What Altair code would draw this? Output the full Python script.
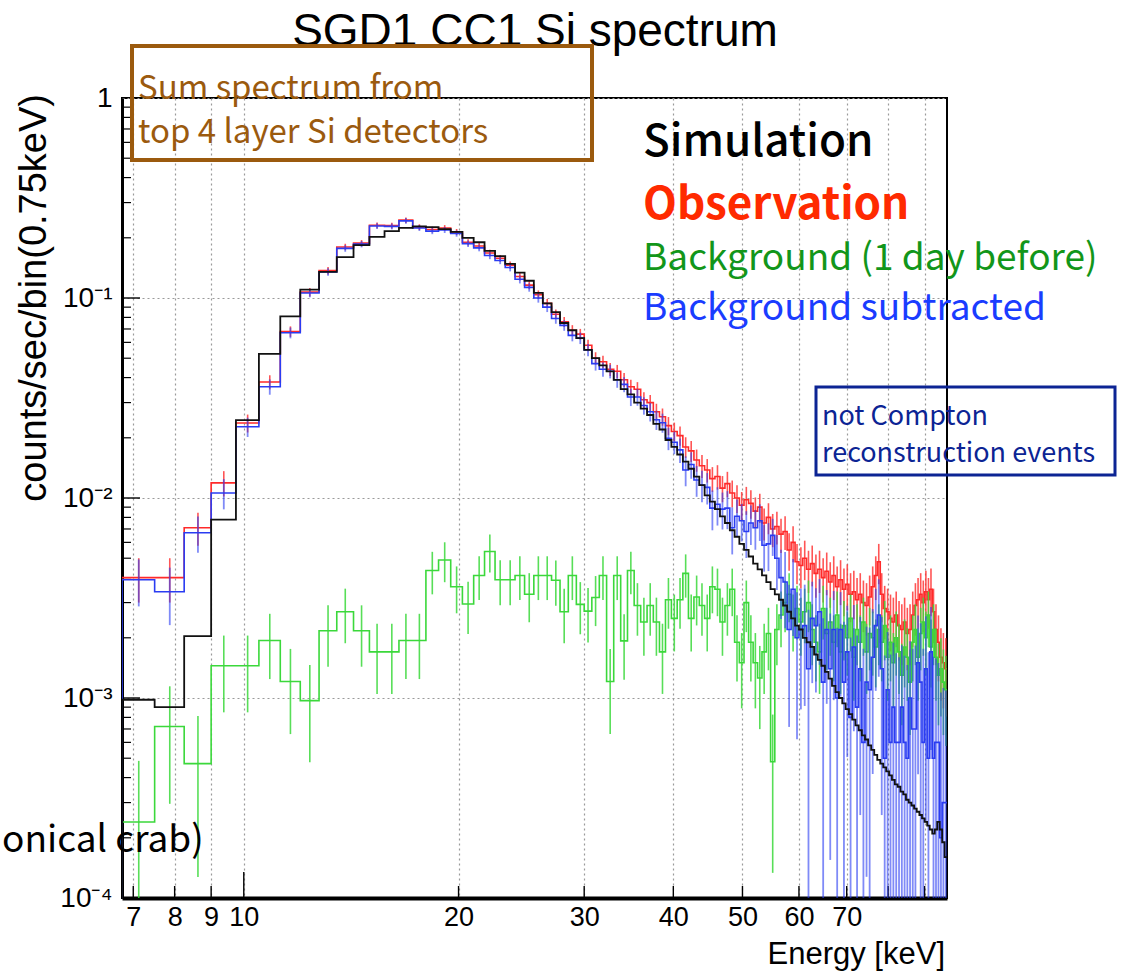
import altair as alt
import pandas as pd

# ---------------- data ----------------
BIN_LO = 6.75      # keV, lower edge of first bin
BIN_W = 0.75       # keV, bin width
EXPOSURE_S = 4000.0  # effective exposure used for Poisson error bars

simulation = [
    0.00098, 0.00090, 0.00204, 0.0078, 0.0245, 0.0525, 0.081, 0.110, 0.135, 0.160,
    0.184, 0.202, 0.216, 0.224, 0.228, 0.226, 0.221, 0.214, 0.200, 0.190,
    0.172, 0.162, 0.148, 0.134, 0.122, 0.106, 0.094, 0.085, 0.075, 0.069,
    0.063, 0.055, 0.050, 0.046, 0.043, 0.039, 0.035, 0.033, 0.030, 0.028,
    0.026, 0.0235, 0.022, 0.0195, 0.018, 0.0165, 0.0152, 0.014, 0.0128, 0.0116,
    0.0103, 0.0096, 0.0088, 0.0081, 0.0075, 0.0069, 0.0064, 0.0059, 0.0055, 0.0051,
    0.0047, 0.0044, 0.0041, 0.0038, 0.0035, 0.0033, 0.0031, 0.0029, 0.0027, 0.0025,
    0.0023, 0.0022, 0.0020, 0.0019, 0.0018, 0.00165, 0.00155, 0.00145, 0.00135, 0.00125,
    0.00115, 0.00107, 0.00100, 0.00094, 0.00088, 0.00083, 0.00078, 0.00073, 0.00069, 0.00065,
    0.00062, 0.00058, 0.00055, 0.00052, 0.00049, 0.00047, 0.00045, 0.00043, 0.00041, 0.00039,
    0.00037, 0.00036, 0.00034, 0.00033, 0.00031, 0.00030, 0.00029, 0.00028, 0.00027, 0.00026,
    0.00025, 0.00024, 0.00023, 0.00022, 0.00021, 0.00022, 0.00024, 0.00022, 0.00019, 0.00016,
]

observation = [
    0.0040, 0.0040, 0.0071, 0.0119, 0.0237, 0.038, 0.068, 0.107, 0.137, 0.180,
    0.188, 0.231, 0.230, 0.245, 0.226, 0.220, 0.224, 0.214, 0.190, 0.182,
    0.168, 0.158, 0.146, 0.128, 0.116, 0.104, 0.094, 0.083, 0.076, 0.069,
    0.066, 0.058, 0.050, 0.048, 0.044, 0.043, 0.039, 0.036, 0.035, 0.031,
    0.030, 0.027, 0.0255, 0.023, 0.0215, 0.0205, 0.018, 0.0172, 0.0155, 0.0145,
    0.0138, 0.0125, 0.0128, 0.0112, 0.0118, 0.0106, 0.0100, 0.0092, 0.0098, 0.0094,
    0.0086, 0.0090, 0.0075, 0.0080, 0.0070, 0.0072, 0.0066, 0.0068, 0.0055, 0.0060,
    0.0048, 0.0046, 0.0050, 0.0044, 0.0047, 0.0042, 0.0044, 0.0040, 0.0043, 0.0038,
    0.0041, 0.0036, 0.0039, 0.0035, 0.0037, 0.0033, 0.0034, 0.0031, 0.0033, 0.0030,
    0.0029, 0.0032, 0.0036, 0.0041, 0.0048, 0.0033, 0.0028, 0.0027, 0.0025, 0.0024,
    0.0026, 0.0023, 0.0022, 0.0024, 0.0021, 0.0022, 0.0026, 0.0029, 0.0031, 0.0033,
    0.0030, 0.0034, 0.0031, 0.0035, 0.0027, 0.0022, 0.0019, 0.0016, 0.0015, 0.0014,
]

background = [
    0.00024, 0.00072, 0.00047, 0.00145, 0.00145, 0.00194, 0.00121, 0.00097, 0.00217, 0.0027,
    0.00217, 0.0017, 0.0017, 0.00194, 0.00194, 0.00434, 0.0049, 0.0036, 0.00295, 0.0041,
    0.0054, 0.0039, 0.0039, 0.0041, 0.0033, 0.0041, 0.0041, 0.00388, 0.0027, 0.0041,
    0.00294, 0.00272, 0.00318, 0.0041, 0.00121, 0.0041, 0.00193, 0.00434, 0.0029, 0.0024,
    0.0029, 0.0024, 0.0017, 0.0031, 0.0025, 0.0031, 0.0042, 0.0025, 0.0032, 0.0029,
    0.0025, 0.0036, 0.0035, 0.0024, 0.0029, 0.0035, 0.0019, 0.0015, 0.0030, 0.0019,
    0.0015, 0.00126, 0.0017, 0.0021, 0.00048, 0.0022, 0.0026, 0.0030, 0.0033, 0.0025,
    0.0028, 0.0024, 0.0027, 0.0030, 0.0022, 0.0019, 0.0017, 0.0028, 0.0021, 0.0024,
    0.0019, 0.0026, 0.0017, 0.0023, 0.0020, 0.0025, 0.0016, 0.0022, 0.0019, 0.0024,
    0.0017, 0.0021, 0.0020, 0.0018, 0.0022, 0.0019, 0.0023, 0.0016, 0.0019, 0.0015,
    0.0020, 0.0017, 0.0013, 0.0018, 0.0016, 0.0012, 0.0019, 0.0022, 0.0016, 0.0021,
    0.0024, 0.0020, 0.0026, 0.0018, 0.0022, 0.0016, 0.0013, 0.0014, 0.0012, 0.0011,
]

subtracted = [
    0.0039, 0.0034, 0.0067, 0.0106, 0.0227, 0.036, 0.067, 0.106, 0.135, 0.177,
    0.186, 0.229, 0.228, 0.243, 0.224, 0.216, 0.219, 0.210, 0.187, 0.178,
    0.163, 0.154, 0.142, 0.124, 0.113, 0.100, 0.090, 0.079, 0.073, 0.065,
    0.063, 0.055, 0.047, 0.044, 0.043, 0.039, 0.037, 0.032, 0.032, 0.029,
    0.027, 0.0246, 0.0238, 0.0199, 0.019, 0.0174, 0.0138, 0.0147, 0.0123, 0.0116,
    0.0113, 0.0089, 0.0093, 0.0088, 0.0089, 0.0071, 0.0081, 0.0077, 0.0068, 0.0075,
    0.0071, 0.0077, 0.0058, 0.0059, 0.0065, 0.0050, 0.0040, 0.0038, 0.0022, 0.0035,
    0.0020, 0.0022, 0.0023, 0.0014, 0.0025, 0.0023, 0.0027, 0.0012, 0.0022, 0.0014,
    0.0022, 0.0010, 0.0022, 0.0012, 0.0017, 0.0008, 0.0018, 0.0009, 0.0014, 0.0006,
    0.0012, 0.0011, 0.0016, 0.0023, 0.0026, 0.0014, 0.0005, 0.0011, 0.0006, 0.0009,
    0.0006, 0.0006, 0.0009, 0.0006, 0.0005, 0.0010, 0.0007, 0.0007, 0.0015, 0.0012,
    0.0006, 0.0014, 0.0005, 0.0017, 0.0005, 0.0006, 0.0006, 0.0002, 0.0003, 0.0003,
]

x_tick_values = [7, 8, 9, 10, 20, 30, 40, 50, 60, 70, 80, 90]
y_tick_values = [1e-4, 1e-3, 1e-2, 1e-1, 1.0]

# ---------------- derived tables ----------------
n = len(simulation)
edges = [BIN_LO + BIN_W * i for i in range(n + 1)]
centers = [BIN_LO + BIN_W * (i + 0.5) for i in range(n)]
YMIN, YMAX = 1e-4, 1.0


def step_df(vals, from_floor=False):
    xs = list(edges)
    ys = list(vals) + [vals[-1]]
    if from_floor:
        xs = [edges[0]] + xs
        ys = [1e-6] + ys
    return pd.DataFrame({"E": xs, "v": ys})


def err_df(vals, errs):
    lo = [max(v - e, 5e-5) for v, e in zip(vals, errs)]
    hi = [v + e for v, e in zip(vals, errs)]
    return pd.DataFrame({"E": centers, "lo": lo, "hi": hi})


obs_err = [(v / EXPOSURE_S) ** 0.5 for v in observation]
bkg_err = [(v / EXPOSURE_S) ** 0.5 for v in background]
sub_err = [((o + b) / EXPOSURE_S) ** 0.5 for o, b in zip(observation, background)]

xscale = alt.Scale(type="log", domain=[BIN_LO, edges[-1]], nice=False)
yscale = alt.Scale(type="log", domain=[YMIN, YMAX], nice=False)

FONT = "Liberation Sans"
JFONT = "Noto Sans CJK JP"

C_BLACK = "#111111"
C_RED = "#ff2a2a"
C_GREEN = "#3bd83b"
C_BLUE = "#2a3cf2"

y_label_expr = (
    "datum.value >= 0.5 ? '1' : datum.value >= 0.05 ? '10\u207b\u00b9' : "
    "datum.value >= 0.005 ? '10\u207b\u00b2' : datum.value >= 0.0005 ? '10\u207b\u00b3' : '10\u207b\u2074'"
)

XAXIS = alt.Axis(
    values=x_tick_values, format="d",
    labelExpr="datum.value >= 75 ? '' : datum.label",
    title=None, ticks=False, labelFont=FONT, labelFontSize=27, labelColor="black",
    labelPadding=6, labelOverlap=False, labelFlush=False,
    domainColor="black", domainWidth=4,
    grid=True, gridColor="#9a9a9a", gridDash=[2, 3], gridWidth=1.2)
YAXIS = alt.Axis(
    values=y_tick_values, labelExpr=y_label_expr,
    title=None, ticks=False, labelFont=FONT, labelFontSize=28, labelColor="black",
    labelPadding=10, labelOverlap=False, labelFlush=False,
    domainColor="black", domainWidth=3,
    grid=True, gridColor="#9a9a9a", gridDash=[2, 3], gridWidth=1.2)


def X(field):
    return alt.X(field, scale=xscale, axis=XAXIS)


def Y(field):
    return alt.Y(field, scale=yscale, axis=YAXIS)


def step_layer(vals, color, from_floor=False, width=1.6):
    return alt.Chart(step_df(vals, from_floor)).mark_line(
        interpolate="step-after", color=color, strokeWidth=width, clip=True
    ).encode(x=X("E:Q"), y=Y("v:Q"))


def err_layer(vals, errs, color, width=1.6, opacity=0.85):
    return alt.Chart(err_df(vals, errs)).mark_rule(
        color=color, strokeWidth=width, opacity=opacity, clip=True
    ).encode(x=X("E:Q"), y=Y("lo:Q"), y2="hi:Q")


# inner ticks (ROOT style)
minor_y = [m * 10.0 ** k for k in range(-4, 0) for m in range(2, 10)]
major_y = [1e-3, 1e-2, 1e-1]
xt_short = [7, 8, 9, 20, 30, 40, 50, 60, 70, 80, 90]
xt_long = [10]

ytick_minor = alt.Chart(pd.DataFrame({"t": minor_y})).mark_rule(color="black", strokeWidth=1.2).encode(
    y=Y("t:Q"), x=alt.value(0), x2=alt.value(9))
ytick_major = alt.Chart(pd.DataFrame({"t": major_y})).mark_rule(color="black", strokeWidth=1.4).encode(
    y=Y("t:Q"), x=alt.value(0), x2=alt.value(18))
xtick_short = alt.Chart(pd.DataFrame({"t": xt_short})).mark_rule(color="black", strokeWidth=1.4).encode(
    x=X("t:Q"), y=alt.value(800), y2=alt.value(788))
xtick_long = alt.Chart(pd.DataFrame({"t": xt_long})).mark_rule(color="black", strokeWidth=1.4).encode(
    x=X("t:Q"), y=alt.value(800), y2=alt.value(774))

one = pd.DataFrame({"a": [0]})


def text(s, x, y, size, color="black", font=JFONT, weight="normal", align="left", angle=0):
    kw = dict(text=s, fontSize=size, color=color, font=font, fontWeight=weight,
              align=align, baseline="alphabetic")
    if angle:
        kw["angle"] = angle
    return alt.Chart(one).mark_text(**kw).encode(x=alt.value(x), y=alt.value(y))


def box(x1, x2, y1, y2, color, width):
    return alt.Chart(one).mark_rect(filled=False, stroke=color, strokeWidth=width).encode(
        x=alt.value(x1), x2=alt.value(x2), y=alt.value(y1), y2=alt.value(y2))


BROWN = "#9b5a0e"
NAVY = "#0c2494"

layers = [
    ytick_minor, ytick_major, xtick_short, xtick_long,
    err_layer(observation, obs_err, C_RED, 1.6, 0.8),
    step_layer(observation, C_RED),
    err_layer(background, bkg_err, C_GREEN, 1.6, 0.85),
    step_layer(background, C_GREEN),
    err_layer(subtracted, sub_err, C_BLUE, 1.8, 0.6),
    step_layer(subtracted, C_BLUE, from_floor=True),
    step_layer(simulation, C_BLACK, from_floor=True, width=1.8),
    # title and axis titles
    text("SGD1 CC1 Si spectrum", 413, -52, 46, font=FONT, align="center"),
    text("Energy [keV]", 823, 866, 31, font=FONT, align="right"),
    text("counts/sec/bin(0.75keV)", -76, -4, 38, font=FONT, align="right", angle=270),
    # annotations
    box(10, 470, -52, 62, BROWN, 4),
    text("Sum spectrum from", 16, 1, 33, color=BROWN),
    text("top 4 layer Si detectors", 16, 45, 33, color=BROWN),
    text("Simulation", 521, 58, 44, color="black", weight=500),
    text("Observation", 521, 121, 44, color="#ff2a00", weight="bold"),
    text("Background (1 day before)", 521, 172, 37, color="#12961a"),
    text("Background subtracted", 521, 222, 37, color="#1a3cff"),
    box(694, 993, 289, 377, NAVY, 3),
    text("not Compton", 700, 327, 27, color=NAVY),
    text("reconstruction events", 700, 364, 27, color=NAVY),
    text("onical crab)", -120, 754, 37, color="black"),
]

chart = alt.layer(*layers).properties(
    width=825, height=800,
    padding={"left": 122, "top": 98, "right": 177, "bottom": 76},
    autosize=alt.AutoSizeParams(type="none"),
    background="white",
).configure_view(stroke="black", strokeWidth=2)

chart.save("out.html", embed_options={"renderer": "svg", "actions": False})
